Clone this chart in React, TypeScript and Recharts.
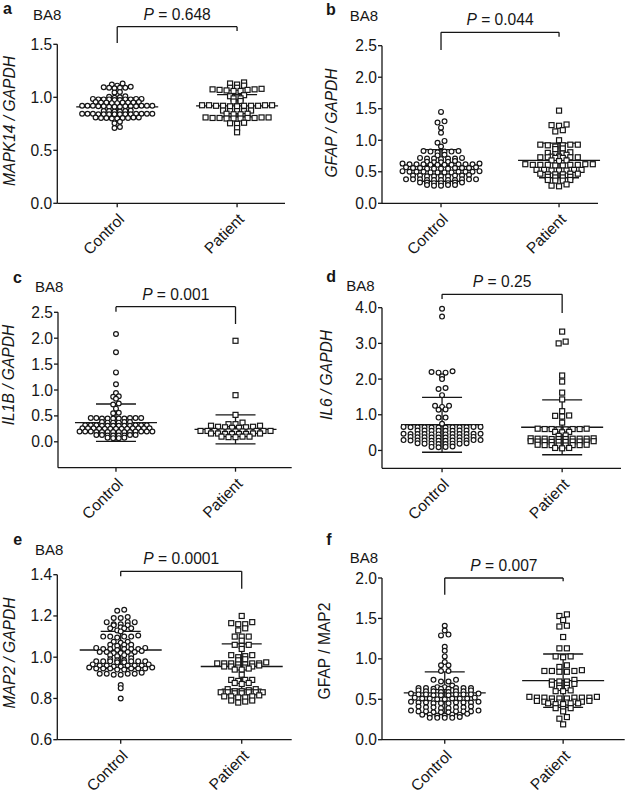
import React from "react";
import { ScatterChart, Scatter, XAxis, YAxis, ReferenceLine } from "recharts";

const GROUPS = ["Control", "Patient"];
const REGION = "BA8";

// a: MAPK14 / GAPDH
const CONTROL_A = [
  1.12, 1.09, 1.085, 1.09, 1.095, 1.09, 1.1, 1.11, 1.13,
  1.05, 1.045,
  1.005, 1.0, 0.995, 1.01,
  0.985, 0.98, 0.98, 0.975, 0.98, 0.985, 0.98, 0.975, 0.98, 0.985,
  0.955, 0.95, 0.95, 0.945, 0.95, 0.955, 0.95, 0.945, 0.95,
  0.92, 0.915, 0.92, 0.91, 0.915, 0.92, 0.915, 0.91, 0.92, 0.915, 0.92, 0.91, 0.915, 0.92,
  0.87, 0.865, 0.87, 0.865, 0.87, 0.875,
  0.845, 0.84, 0.845, 0.84, 0.845, 0.84, 0.845, 0.84, 0.845, 0.84, 0.845, 0.84, 0.845, 0.84,
  0.81, 0.805, 0.8, 0.805, 0.81, 0.8, 0.805, 0.81, 0.805,
  0.77, 0.755, 0.72, 0.71,
];
const PATIENT_A = [
  1.14, 1.13, 1.12, 1.11, 1.09, 1.075, 1.07, 1.065, 1.06, 1.06, 1.07, 1.075, 1.08, 1.09,
  1.02, 1.0, 0.99, 0.99, 1.01,
  0.965, 0.96,
  0.925, 0.92, 0.925, 0.92, 0.915, 0.92, 0.925, 0.92, 0.915, 0.92, 0.925,
  0.875, 0.87, 0.87, 0.875, 0.87,
  0.845, 0.84, 0.845, 0.84,
  0.81, 0.805, 0.8, 0.8, 0.805, 0.81, 0.8, 0.805, 0.81, 0.805,
  0.76, 0.755, 0.75,
  0.71, 0.67,
];

// b: GFAP / GAPDH
const CONTROL_B = [
  1.45, 1.3, 1.28, 1.2, 1.12, 0.99, 0.96, 0.9,
  0.82, 0.83, 0.82, 0.81, 0.82, 0.83,
  0.77, 0.76,
  0.71, 0.72, 0.71, 0.7, 0.71, 0.72, 0.71,
  0.66, 0.65, 0.66, 0.67, 0.65,
  0.62, 0.61, 0.62, 0.63, 0.61, 0.62, 0.61, 0.62, 0.63, 0.62, 0.61, 0.62,
  0.56, 0.55, 0.56, 0.57, 0.55, 0.56, 0.55, 0.56, 0.57, 0.56, 0.55,
  0.5, 0.49, 0.5, 0.51, 0.49, 0.5, 0.49, 0.5, 0.51, 0.5, 0.49, 0.5,
  0.44, 0.43, 0.44, 0.43, 0.44, 0.45, 0.43, 0.44, 0.43,
  0.38, 0.37, 0.38, 0.37, 0.38, 0.37, 0.38, 0.37, 0.38, 0.37, 0.38,
  0.33, 0.32, 0.33, 0.32, 0.33, 0.32, 0.33,
  0.29, 0.28, 0.29, 0.28, 0.29,
];
const PATIENT_B = [
  1.47, 1.25, 1.23, 1.24, 1.16, 1.14, 1.0,
  0.93, 0.92, 0.9, 0.93, 0.92, 0.93,
  0.87, 0.86,
  0.8, 0.81, 0.79, 0.78, 0.77,
  0.74, 0.73, 0.72, 0.73, 0.74, 0.73, 0.72, 0.73,
  0.68, 0.67, 0.68,
  0.62, 0.61, 0.6, 0.61, 0.62, 0.61, 0.6, 0.61, 0.62, 0.61,
  0.53, 0.52, 0.53, 0.52, 0.53, 0.52, 0.53,
  0.47, 0.46, 0.47, 0.46, 0.47, 0.46,
  0.42, 0.41, 0.42, 0.41,
  0.37, 0.36, 0.37, 0.36,
  0.3, 0.28, 0.27,
];

// c: IL1B / GAPDH
const CONTROL_C = [
  2.08, 1.73, 1.34, 1.11, 0.94, 0.88, 0.87, 0.83, 0.74, 0.72, 0.64, 0.56, 0.55,
  0.46, 0.45, 0.46, 0.45, 0.46, 0.45, 0.46, 0.45, 0.46, 0.45,
  0.38, 0.37, 0.38, 0.37, 0.38, 0.37,
  0.32, 0.31, 0.32, 0.31, 0.32, 0.31, 0.32, 0.31, 0.32, 0.31, 0.32, 0.31,
  0.26, 0.25, 0.26, 0.25, 0.26, 0.25, 0.26, 0.25, 0.26, 0.25, 0.26, 0.25, 0.26,
  0.19, 0.2, 0.19, 0.2, 0.19, 0.2, 0.19, 0.2, 0.19, 0.2, 0.19, 0.2, 0.19, 0.2,
  0.13, 0.12, 0.13, 0.12, 0.13, 0.12, 0.13, 0.12,
  0.08, 0.07, 0.08, 0.07,
];
const PATIENT_C = [
  1.95, 0.9, 0.52, 0.37,
  0.34, 0.31, 0.29, 0.28, 0.27, 0.27, 0.28, 0.29, 0.31, 0.34,
  0.21, 0.2, 0.21, 0.2, 0.21, 0.2, 0.21, 0.2, 0.21, 0.2, 0.21,
  0.16, 0.15, 0.16, 0.15, 0.16, 0.15, 0.16, 0.15,
  0.1, 0.09, 0.1, 0.09, 0.1,
];

// d: IL6 / GAPDH
const CONTROL_D = [
  3.97, 3.75, 2.2, 2.18, 2.22, 2.18, 2.08, 2.0, 1.75, 1.72, 1.55,
  1.25, 1.22, 1.25, 1.15, 1.14, 0.92, 0.92, 0.75,
  0.65, 0.66, 0.65, 0.64, 0.65, 0.66, 0.65, 0.64, 0.65, 0.66, 0.65, 0.64,
  0.56, 0.55, 0.56, 0.55, 0.56, 0.55, 0.56, 0.55,
  0.46, 0.47, 0.46, 0.45, 0.46, 0.47, 0.46, 0.45, 0.46, 0.47, 0.46, 0.45,
  0.37, 0.36, 0.37, 0.38, 0.37, 0.36, 0.37, 0.38, 0.37, 0.36,
  0.28, 0.27, 0.28, 0.29, 0.28, 0.27, 0.28, 0.29, 0.28, 0.27, 0.28, 0.29,
  0.19, 0.18, 0.19, 0.2, 0.19, 0.18, 0.19, 0.2,
  0.1, 0.09, 0.1, 0.11,
];
const PATIENT_D = [
  3.33, 3.05, 3.0, 2.1, 1.93, 1.62, 1.43, 1.1, 0.98, 0.97, 0.95, 0.78,
  0.6, 0.59, 0.6, 0.61, 0.6, 0.59, 0.6, 0.61,
  0.52, 0.51, 0.52,
  0.42, 0.41,
  0.33, 0.32, 0.33, 0.34, 0.33, 0.32, 0.33, 0.34, 0.33, 0.32,
  0.25, 0.24, 0.25, 0.26, 0.25, 0.24, 0.25, 0.26, 0.25, 0.24,
  0.15, 0.14, 0.15, 0.16, 0.15, 0.14, 0.15, 0.16,
  0.07, 0.06, 0.07,
];

// e: MAP2 / GAPDH
const CONTROL_E = [
  1.225, 1.23, 1.19, 1.19, 1.195, 1.17, 1.17, 1.17, 1.155, 1.16, 1.155, 1.16,
  1.14, 1.14, 1.14, 1.145, 1.125, 1.13,
  1.1, 1.1, 1.095, 1.1, 1.105, 1.1,
  1.075, 1.075, 1.07,
  1.06, 1.06, 1.055, 1.06,
  1.04, 1.04, 1.045, 1.04, 1.035, 1.04, 1.045, 1.04,
  1.025, 1.025, 1.02, 1.025, 1.03, 1.025, 1.02,
  1.01, 1.01, 1.005, 1.01,
  0.995, 0.99,
  0.98, 0.98, 0.975, 0.98, 0.985, 0.98, 0.975, 0.98, 0.985, 0.98,
  0.96, 0.96, 0.955, 0.96, 0.965, 0.96, 0.955, 0.96, 0.965,
  0.945, 0.945, 0.94, 0.945, 0.95, 0.945, 0.94, 0.945, 0.95, 0.945,
  0.92, 0.92, 0.915, 0.92, 0.925, 0.92, 0.915,
  0.865, 0.85, 0.8,
];
const PATIENT_E = [
  1.2, 1.17, 1.16, 1.16, 1.165, 1.14, 1.13, 1.1, 1.1, 1.1, 1.08, 1.06, 1.06, 1.055,
  1.04, 1.01, 1.005, 1.01, 1.0, 0.99, 0.985,
  0.97, 0.97, 0.965, 0.97, 0.975, 0.97, 0.965, 0.97,
  0.955, 0.955, 0.95, 0.955, 0.96, 0.95,
  0.94, 0.94, 0.945,
  0.915,
  0.89, 0.89, 0.885, 0.89,
  0.875, 0.875, 0.87,
  0.845, 0.845, 0.84,
  0.83, 0.83, 0.825, 0.83, 0.835, 0.83, 0.825, 0.83, 0.835,
  0.81, 0.81, 0.805, 0.81, 0.815, 0.805,
  0.79, 0.79, 0.785,
  0.78,
];

// f: GFAP / MAP2
const CONTROL_F = [
  1.41, 1.35, 1.3, 1.29, 1.15, 1.1, 1.03, 0.96, 0.92, 0.92, 0.85, 0.85,
  0.74, 0.74, 0.72, 0.72, 0.67,
  0.64, 0.63, 0.64, 0.65, 0.64, 0.63, 0.64, 0.65, 0.64, 0.63,
  0.6, 0.59, 0.6, 0.61, 0.6, 0.59, 0.6, 0.61,
  0.56, 0.55, 0.56, 0.57, 0.56, 0.55, 0.56, 0.57, 0.56, 0.55,
  0.51, 0.5, 0.51, 0.52, 0.51, 0.5, 0.51, 0.52, 0.51,
  0.46, 0.45, 0.46, 0.47, 0.46, 0.45, 0.46, 0.47, 0.46, 0.45,
  0.4, 0.39, 0.4, 0.41, 0.4, 0.39, 0.4, 0.41,
  0.35, 0.34, 0.35, 0.36, 0.35, 0.34, 0.35, 0.36, 0.35, 0.34,
  0.31, 0.3, 0.31, 0.32, 0.31, 0.3, 0.31,
  0.27, 0.27, 0.28, 0.27, 0.27,
];
const PATIENT_F = [
  1.55, 1.53, 1.48, 1.41, 1.4, 1.27, 1.13, 1.13, 1.03, 1.03, 1.02, 0.92, 0.9,
  0.85, 0.84, 0.85, 0.86, 0.85, 0.84,
  0.74, 0.72, 0.72, 0.72,
  0.68, 0.67, 0.68, 0.69,
  0.64, 0.64,
  0.6, 0.61, 0.6,
  0.52, 0.51, 0.52, 0.53, 0.52, 0.51, 0.52, 0.53, 0.52, 0.51,
  0.47, 0.46, 0.47, 0.48, 0.47, 0.46, 0.47, 0.48,
  0.45, 0.44, 0.45, 0.44, 0.45,
  0.39, 0.38, 0.39,
  0.35, 0.28, 0.26, 0.19,
];

// mean and SD as drawn (control, patient)
const MEAN_A = [0.91, 0.92];
const SD_A = [0.085, 0.105];
const MEAN_B = [0.6, 0.68];
const SD_B = [0.25, 0.275];
const MEAN_C = [0.37, 0.24];
const SD_C = [0.36, 0.28];
const MEAN_D = [0.72, 0.65];
const SD_D = [0.77, 0.77];
const MEAN_E = [1.035, 0.955];
const SD_E = [0.09, 0.11];
const MEAN_F = [0.58, 0.73];
const SD_F = [0.26, 0.33];

const P_VALUES = ["0.648", "0.044", "0.001", "0.25", "0.0001", "0.007"];
const Y_LABELS = ["MAPK14 / GAPDH", "GFAP / GAPDH", "IL1B / GAPDH", "IL6 / GAPDH", "MAP2 / GAPDH", "GFAP / MAP2"];
const Y_TICKS_A = [0, 0.5, 1.0, 1.5];
const Y_TICKS_B = [0, 0.5, 1.0, 1.5, 2.0, 2.5];
const Y_TICKS_C = [0, 0.5, 1.0, 1.5, 2.0, 2.5];
const Y_TICKS_D = [0, 1, 2, 3, 4];
const Y_TICKS_E = [0.6, 0.8, 1.0, 1.2, 1.4];
const Y_TICKS_F = [0, 0.5, 1.0, 1.5, 2.0];

const FONT = '"Liberation Sans", Arial, Helvetica, sans-serif';
const INK = "#161616";
const PW = 313;
const PH = 265;
const FS = 15.6;

// layout of each panel (panel-local pixels), symbol spacing, bracket heights in data units
const PANELS = [
  { letter: "a", left: 0, top: 0, plot: { l: 57.3, r: 285, t: 44.3, b: 203.3 }, xDomain: [-0.5, 1.4], yDomain: [0, 1.5], yTicks: Y_TICKS_A,
    control: CONTROL_A, patient: PATIENT_A, mean: MEAN_A, sd: SD_A, bracket: [1.666, 1.512, 1.625], gap: [5.4, 7],
    letterPos: [3, 14], regionPos: [33, 20], yLabelPos: [10, 121], italic: true },
  { letter: "b", left: 313, top: 0, plot: { l: 69, r: 285, t: 45.7, b: 203.3 }, xDomain: [-0.5, 1.33], yDomain: [0, 2.5], yTicks: Y_TICKS_B,
    control: CONTROL_B, patient: PATIENT_B, mean: MEAN_B, sd: SD_B, bracket: [2.712, 2.432, 2.642], gap: [7, 7.5],
    letterPos: [13, 15], regionPos: [36.7, 20.7], yLabelPos: [18.3, 123], italic: true },
  { letter: "c", left: 0, top: 265, plot: { l: 58, r: 291.7, t: 47.3, b: 202.7 }, xDomain: [-0.485, 1.47], yDomain: [-0.5, 2.5], yTicks: Y_TICKS_C,
    control: CONTROL_C, patient: PATIENT_C, mean: MEAN_C, sd: SD_C, bracket: [2.608, 2.512, 2.274], gap: [5.6, 7],
    letterPos: [13, 18], regionPos: [35, 26.7], yLabelPos: [8.3, 110], italic: true },
  { letter: "d", left: 313, top: 265, plot: { l: 69, r: 308, t: 42.7, b: 203.3 }, xDomain: [-0.5, 1.49], yDomain: [-0.5, 4], yTicks: Y_TICKS_D,
    control: CONTROL_D, patient: PATIENT_D, mean: MEAN_D, sd: SD_D, bracket: [4.375, 4.243, 3.85], gap: [7, 7],
    letterPos: [13.3, 16.7], regionPos: [33.3, 26], yLabelPos: [13.3, 110], italic: true, plainZero: true },
  { letter: "e", left: 0, top: 528, plot: { l: 57.3, r: 291.7, t: 46.7, b: 211.7 }, xDomain: [-0.524, 1.413], yDomain: [0.6, 1.4], yTicks: Y_TICKS_E,
    control: CONTROL_E, patient: PATIENT_E, mean: MEAN_E, sd: SD_E, bracket: [1.4165, 1.392, 1.332], gap: [7, 7],
    letterPos: [13.3, 17.3], regionPos: [35, 26.7], yLabelPos: [10, 125], italic: true },
  { letter: "f", left: 313, top: 528, plot: { l: 69, r: 311.7, t: 50, b: 211.7 }, xDomain: [-0.53, 1.52], yDomain: [0, 2], yTicks: Y_TICKS_F,
    control: CONTROL_F, patient: PATIENT_F, mean: MEAN_F, sd: SD_F, bracket: [2.0, 1.793, 1.959], gap: [7.5, 7.5],
    letterPos: [13.3, 16.7], regionPos: [36.7, 35], yLabelPos: [11.7, 123], italic: false },
];

// Prism-style scatter rows: points that sit within a couple of pixels of each
// other go into one row, spread sideways around the group centre
function rows(values: number[], center: number, pxX: number, pxY: number, spacing: number, binPx: number) {
  const sorted = [...values].sort((a, b) => b - a);
  const bins: number[][] = [];
  let start = Infinity;
  for (const v of sorted) {
    if (!bins.length || (start - v) * pxY > binPx) {
      bins.push([v]);
      start = v;
    } else {
      bins[bins.length - 1].push(v);
    }
  }
  const pts: { x: number; y: number }[] = [];
  for (const bin of bins) {
    const asc = [...bin].sort((a, b) => a - b);
    const n = asc.length;
    const slots = Array.from({ length: n }, (_, i) => i - (n - 1) / 2).sort(
      (a, b) => Math.abs(a) - Math.abs(b) || a - b
    );
    asc.forEach((v, i) => pts.push({ x: center + (slots[i] * spacing) / pxX, y: v }));
  }
  return pts;
}

const circleShape = (props: any) => (
  <circle cx={props.cx} cy={props.cy} r={2.4} fill="#fff" stroke={INK} strokeWidth={1.2} />
);
const squareShape = (props: any) => (
  <rect x={props.cx - 2.5} y={props.cy - 2.5} width={5} height={5} fill="#fff" stroke={INK} strokeWidth={1.2} />
);

function XTick(props: any) {
  const { x, y, payload } = props;
  return (
    <text
      transform={`translate(${x + 8},${y + 11}) rotate(-45)`}
      textAnchor="end"
      fontSize={FS}
      fontFamily={FONT}
      fill={INK}
    >
      {GROUPS[payload.value]}
    </text>
  );
}

function PLabel(props: any) {
  const vb = props.viewBox || { x: 0, y: 0, width: 0 };
  return (
    <text x={vb.x + vb.width / 2} y={vb.y - 7} textAnchor="middle" fontSize={FS} fontFamily={FONT} fill={INK}>
      <tspan fontStyle="italic">P</tspan> = {props.pv}
    </text>
  );
}

function Panel({ cfg, idx }: { cfg: any; idx: number }) {
  const { plot } = cfg;
  const pxX = (plot.r - plot.l) / (cfg.xDomain[1] - cfg.xDomain[0]);
  const pxY = (plot.b - plot.t) / (cfg.yDomain[1] - cfg.yDomain[0]);
  const controlPts = rows(cfg.control, 0, pxX, pxY, cfg.gap[0], 2.4);
  const patientPts = rows(cfg.patient, 1, pxX, pxY, cfg.gap[1], 2.4);
  const line = { stroke: INK, strokeWidth: 1.3 };
  const fmt = (v: number) => (cfg.plainZero && v === 0 ? "0" : v.toFixed(1));
  const [bTop, bL, bR] = cfg.bracket;
  const meanHalf = 41 / pxX;
  const capHalf = 20 / pxX;

  return (
    <div style={{ position: "absolute", left: cfg.left, top: cfg.top, width: PW, height: PH }}>
      <ScatterChart
        width={PW}
        height={PH}
        margin={{ top: plot.t, left: 0, right: PW - plot.r, bottom: PH - plot.b - 40 }}
      >
        <XAxis
          type="number"
          dataKey="x"
          domain={cfg.xDomain}
          ticks={[0, 1]}
          interval={0}
          height={40}
          tick={<XTick />}
          tickSize={4}
          tickMargin={2}
          axisLine={line}
          tickLine={line}
        />
        <YAxis
          type="number"
          dataKey="y"
          domain={cfg.yDomain}
          ticks={cfg.yTicks}
          interval={0}
          width={plot.l}
          tickSize={4}
          tickMargin={1}
          tickFormatter={fmt}
          tick={{ fontSize: FS, fill: INK, fontFamily: FONT }}
          axisLine={line}
          tickLine={line}
        />
        <Scatter data={controlPts} shape={circleShape} isAnimationActive={false} />
        <Scatter data={patientPts} shape={squareShape} isAnimationActive={false} />
        {[0, 1].map((g) => {
          const m = cfg.mean[g];
          const s = cfg.sd[g];
          return [
            <ReferenceLine key={`m${g}`} segment={[{ x: g - meanHalf, y: m }, { x: g + meanHalf, y: m }]} {...line} ifOverflow="visible" />,
            <ReferenceLine key={`u${g}`} segment={[{ x: g - capHalf, y: m + s }, { x: g + capHalf, y: m + s }]} {...line} ifOverflow="visible" />,
            <ReferenceLine key={`l${g}`} segment={[{ x: g - capHalf, y: m - s }, { x: g + capHalf, y: m - s }]} {...line} ifOverflow="visible" />,
            <ReferenceLine key={`v${g}`} segment={[{ x: g, y: m - s }, { x: g, y: m + s }]} {...line} ifOverflow="visible" />,
          ];
        })}
        <ReferenceLine
          segment={[{ x: 0, y: bTop }, { x: 1, y: bTop }]}
          {...line}
          ifOverflow="visible"
          label={<PLabel pv={P_VALUES[idx]} />}
        />
        <ReferenceLine segment={[{ x: 0, y: bTop }, { x: 0, y: bL }]} {...line} ifOverflow="visible" />
        <ReferenceLine segment={[{ x: 1, y: bTop }, { x: 1, y: bR }]} {...line} ifOverflow="visible" />
      </ScatterChart>
      <svg
        width={PW}
        height={PH}
        style={{ position: "absolute", left: 0, top: 0, pointerEvents: "none" }}
        fontFamily={FONT}
        fill={INK}
      >
        <text x={cfg.letterPos[0]} y={cfg.letterPos[1]} fontSize={16} fontWeight="bold">
          {cfg.letter}
        </text>
        <text x={cfg.regionPos[0]} y={cfg.regionPos[1]} fontSize={15}>
          {REGION}
        </text>
        <text
          x={cfg.yLabelPos[0]}
          y={cfg.yLabelPos[1]}
          dy="0.35em"
          textAnchor="middle"
          fontSize={FS}
          fontStyle={cfg.italic ? "italic" : "normal"}
          transform={`rotate(-90 ${cfg.yLabelPos[0]} ${cfg.yLabelPos[1]})`}
        >
          {Y_LABELS[idx]}
        </text>
      </svg>
    </div>
  );
}

export default function App() {
  return (
    <div style={{ position: "absolute", left: 0, top: 0, width: 627, height: 793, background: "#fff" }}>
      {PANELS.map((cfg, i) => (
        <Panel key={cfg.letter} cfg={cfg} idx={i} />
      ))}
    </div>
  );
}
